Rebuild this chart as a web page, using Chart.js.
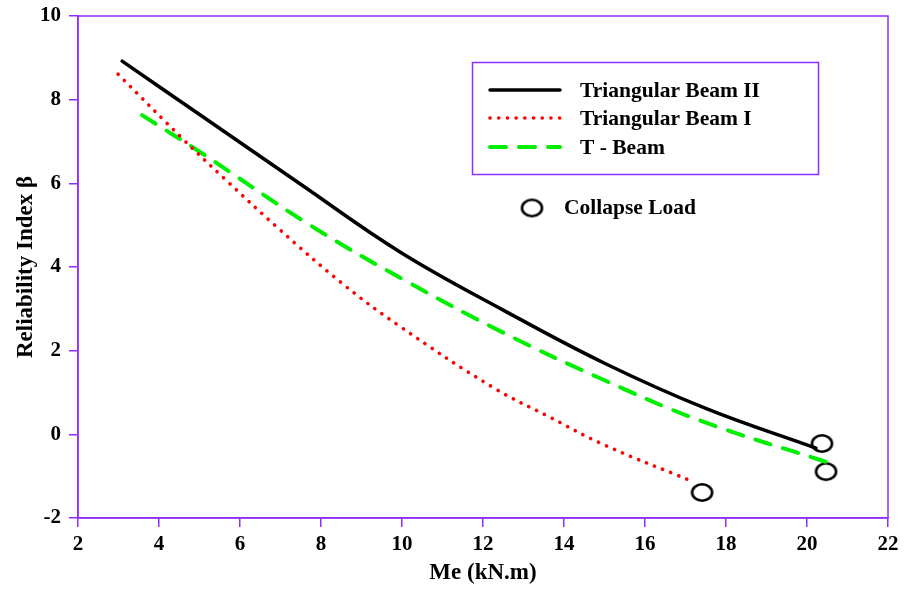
<!DOCTYPE html>
<html><head><meta charset="utf-8">
<script src="https://cdn.jsdelivr.net/npm/chart.js@4"></script>
<style>html,body{margin:0;padding:0;background:#fff}#wrap{width:916px;height:590px;position:relative}</style>
</head><body><div id="wrap"><canvas id="c" width="916" height="590"></canvas></div>
<script>
// Data
const beam2X = [3.09, 5.01, 7.48, 9.95, 12.5, 15.0, 17.5, 20.22];
const beam2Y = [8.92, 7.64, 5.99, 4.36, 2.97, 1.70, 0.62, -0.33];
const beam1X = [2.99, 4.59, 5.63, 6.94, 8.52, 9.95, 12.25, 13.65, 15.01, 17.11];
const beam1Y = [8.61, 7.06, 6.10, 4.93, 3.61, 2.58, 1.12, 0.41, -0.26, -1.10];
const tbeamX = [3.58, 5.01, 7.73, 10.07, 12.5, 14.89, 17.36, 20.57];
const tbeamY = [7.63, 6.75, 5.00, 3.68, 2.43, 1.34, 0.33, -0.69];
const collapseX = [20.37, 20.47, 17.41];
const collapseY = [-0.22, -0.89, -1.39];
const xTicks = [2, 4, 6, 8, 10, 12, 14, 16, 18, 20, 22];
const yTicks = [-2, 0, 2, 4, 6, 8, 10];
const seriesNames = ['Triangular Beam II', 'Triangular Beam I', 'T - Beam', 'Collapse Load'];

const pts = (xs, ys) => xs.map((x, i) => ({x, y: ys[i]}));
const PURPLE = '#8f2cff';
const FONT = '"Liberation Serif", "Times New Roman", serif';

function ellipseImg(w, h, lw) {
  const c = document.createElement('canvas');
  c.width = w + lw * 2; c.height = h + lw * 2;
  const g = c.getContext('2d');
  g.strokeStyle = '#000'; g.lineWidth = lw;
  g.beginPath(); g.ellipse(c.width / 2, c.height / 2, w / 2, h / 2, 0, 0, Math.PI * 2); g.stroke();
  return c;
}
const ell = ellipseImg(20, 16.5, 2.6);

const frame = {
  id: 'frame',
  afterDatasetsDraw(chart) {
    const {ctx, chartArea: a} = chart;
    ctx.save();
    ctx.strokeStyle = PURPLE; ctx.lineWidth = 1.5;
    ctx.strokeRect(a.left, a.top, a.right - a.left, a.bottom - a.top);
    // legend box
    ctx.strokeRect(472.5, 62.5, 346, 112);
    const ds = chart.data.datasets;
    const rows = [90, 118, 147];
    for (let i = 0; i < 3; i++) {
      const d = ds[i];
      ctx.strokeStyle = d.borderColor; ctx.lineWidth = d.borderWidth;
      ctx.setLineDash(d.borderDash || []);
      ctx.lineCap = d.borderCapStyle || 'butt';
      ctx.beginPath(); ctx.moveTo(490, rows[i]); ctx.lineTo(560, rows[i]); ctx.stroke();
    }
    ctx.setLineDash([]);
    ctx.fillStyle = '#000';
    ctx.font = 'bold 21.5px ' + FONT;
    ctx.textBaseline = 'middle';
    for (let i = 0; i < 3; i++) ctx.fillText(seriesNames[i], 580, rows[i] + 1);
    ctx.drawImage(ell, 532 - ell.width / 2, 208 - ell.height / 2);
    ctx.fillText(seriesNames[3], 564, 208);
    ctx.restore();
  }
};

new Chart(document.getElementById('c'), {
  type: 'scatter',
  data: {
    datasets: [
      {label: seriesNames[0], data: pts(beam2X, beam2Y), showLine: true, borderColor: '#000', borderWidth: 3.5,
       pointRadius: 0, tension: 0.4, borderCapStyle: 'round'},
      {label: seriesNames[1], data: pts(beam1X, beam1Y), showLine: true, borderColor: '#ff0000', borderWidth: 3.6,
       borderDash: [0.1, 8.6], borderCapStyle: 'round', pointRadius: 0, tension: 0.4},
      {label: seriesNames[2], data: pts(tbeamX, tbeamY), showLine: true, borderColor: '#00ee00', borderWidth: 4,
       borderDash: [16, 13], borderCapStyle: 'round', pointRadius: 0, tension: 0.4},
      {label: seriesNames[3], data: pts(collapseX, collapseY), showLine: false, pointStyle: ell,
       pointRadius: 10, borderColor: '#000', backgroundColor: 'transparent'}
    ]
  },
  options: {
    responsive: false, animation: false, devicePixelRatio: 1,
    layout: {padding: {top: 16, right: 28, left: 0, bottom: 0}},
    plugins: {legend: {display: false}, tooltip: {enabled: false}},
    scales: {
      x: {
        type: 'linear', min: 2, max: 22,
        afterBuildTicks: s => { s.ticks = xTicks.map(v => ({value: v})); },
        afterFit: s => { s.height = 72; s.paddingLeft = 0; s.paddingRight = 0; },
        grid: {drawOnChartArea: false, drawTicks: true, tickLength: 9, color: PURPLE, lineWidth: 1.5},
        border: {display: true, color: PURPLE, width: 1.5},
        ticks: {color: '#000', font: {family: FONT, size: 21, weight: 'bold'}, padding: 5, maxRotation: 0},
        title: {display: true, text: 'Me (kN.m)', color: '#000', font: {family: FONT, size: 23, weight: 'bold'}, padding: {top: 0, bottom: 3}}
      },
      y: {
        type: 'linear', min: -2, max: 10,
        afterBuildTicks: s => { s.ticks = yTicks.map(v => ({value: v})); },
        afterFit: s => { s.width = 78; s.paddingTop = 0; s.paddingBottom = 0; },
        grid: {drawOnChartArea: false, drawTicks: true, tickLength: 9, color: PURPLE, lineWidth: 1.5},
        border: {display: true, color: PURPLE, width: 1.5},
        ticks: {color: '#000', font: {family: FONT, size: 21, weight: 'bold'}, padding: 8},
        title: {display: true, text: 'Reliability Index β', color: '#000', font: {family: FONT, size: 23, weight: 'bold'}, padding: {top: 12, bottom: 0}}
      }
    }
  },
  plugins: [frame]
});
</script></body></html>
